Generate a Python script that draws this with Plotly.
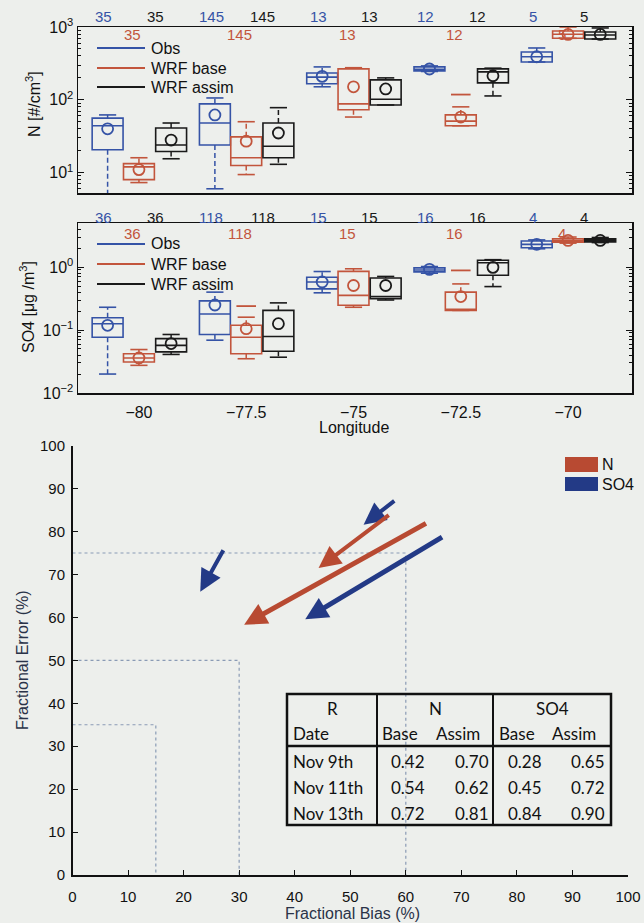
import plotly.graph_objects as go

W, H = 644, 923
FONT = "Liberation Sans, Arial, sans-serif"
TABLE_FONT = "Lato, Open Sans, sans-serif"

# ---------------- data: box plots ----------------
lons = [-80, -77.5, -75, -72.5, -70]
series = ["Obs", "WRF base", "WRF assim"]

n_counts = [35, 145, 13, 12, 5]
so4_counts = [36, 118, 15, 16, 4]

# N [#/cm3]
n_obs_lo = [3, 6, 151, 245, 331]
n_obs_q1 = [20.6, 24, 166, 250, 331]
n_obs_med = [44, 48, 205, 262, 390]
n_obs_q3 = [56, 88, 234, 283, 454]
n_obs_hi = [62, 106, 283, 292, 515]
n_obs_mean = [40, 62, 210, 265, 390]

n_base_lo = [7.3, 9.4, 58, 44, 700]
n_base_q1 = [8.0, 12.5, 73, 44, 700]
n_base_med = [12, 16, 88, 51, 795]
n_base_q3 = [13.3, 31, 266, 62, 880]
n_base_hi = [16, 50, 276, 80, 1000]
n_base_mean = [11, 27, 151, 58, 790]

n_assim_lo = [15.5, 13, 85, 113, 684]
n_assim_q1 = [19.5, 16, 85, 171, 684]
n_assim_med = [24, 23, 102, 242, 776]
n_assim_q3 = [41, 48, 188, 266, 855]
n_assim_hi = [48, 78, 200, 272, 970]
n_assim_mean = [28, 35, 141, 214, 790]

n_outlier_lon = [-72.5]
n_outlier_val = [118]

# SO4 [ug/m3]
s_obs_lo = [0.02, 0.069, 0.39, 0.80, 1.95]
s_obs_q1 = [0.077, 0.085, 0.45, 0.84, 2.03]
s_obs_med = [0.126, 0.18, 0.58, 0.90, 2.29]
s_obs_q3 = [0.157, 0.29, 0.69, 0.97, 2.59]
s_obs_hi = [0.23, 0.40, 0.85, 1.02, 2.7]
s_obs_mean = [0.119, 0.25, 0.58, 0.92, 2.3]

s_base_lo = [0.0275, 0.035, 0.23, 0.205, 2.4]
s_base_q1 = [0.031, 0.042, 0.247, 0.205, 2.49]
s_base_med = [0.036, 0.077, 0.355, 0.21, 2.65]
s_base_q3 = [0.042, 0.119, 0.855, 0.40, 2.82]
s_base_hi = [0.049, 0.16, 0.94, 0.54, 3.0]
s_base_mean = [0.036, 0.105, 0.51, 0.34, 2.65]

s_assim_lo = [0.041, 0.037, 0.30, 0.49, 2.45]
s_assim_q1 = [0.045, 0.046, 0.315, 0.74, 2.5]
s_assim_med = [0.057, 0.079, 0.34, 1.17, 2.65]
s_assim_q3 = [0.073, 0.205, 0.67, 1.28, 2.8]
s_assim_hi = [0.085, 0.27, 0.71, 1.31, 2.95]
s_assim_mean = [0.061, 0.126, 0.51, 0.99, 2.65]

s_outlier_lon = [-77.5, -72.5]
s_outlier_val = [0.24, 0.885]

# ---------------- data: fractional bias / error ----------------
arrow_species = ["SO4", "SO4", "N", "N", "SO4"]
base_bias = [27.3, 58.2, 57.2, 63.9, 66.8]
base_error = [76.0, 87.4, 84.1, 82.1, 78.9]
assim_bias = [23.0, 52.4, 44.3, 30.9, 41.9]
assim_error = [66.0, 81.6, 71.5, 58.3, 59.6]

goal_bias = [15, 30, 60]
goal_error = [35, 50, 75]

# ---------------- data: table ----------------
dates = ["Nov 9th", "Nov 11th", "Nov 13th"]
r_n_base = ["0.42", "0.54", "0.72"]
r_n_assim = ["0.70", "0.62", "0.81"]
r_so4_base = ["0.28", "0.45", "0.84"]
r_so4_assim = ["0.65", "0.72", "0.90"]

# ---------------- styles ----------------
colors = {"Obs": "#3553a6", "WRF base": "#c2553c", "WRF assim": "#1a1a1a"}
offsets = {"Obs": -0.73, "WRF base": 0.0, "WRF assim": 0.75}
label_offsets = {"Obs": -0.82, "WRF base": -0.15, "WRF assim": 0.38}
species_color = {"N": "#b84a32", "SO4": "#233a86"}
BG = "#edefec"
BOXW = 0.72
CAPW = 0.2

def px_x(p):
    return p / W

def px_y(p):
    return 1 - p / H

fig = go.Figure()

panels = [
    ("x", "y", {
        "Obs": (n_obs_lo, n_obs_q1, n_obs_med, n_obs_q3, n_obs_hi, n_obs_mean),
        "WRF base": (n_base_lo, n_base_q1, n_base_med, n_base_q3, n_base_hi, n_base_mean),
        "WRF assim": (n_assim_lo, n_assim_q1, n_assim_med, n_assim_q3, n_assim_hi, n_assim_mean),
    }, n_outlier_lon, n_outlier_val),
    ("x2", "y2", {
        "Obs": (s_obs_lo, s_obs_q1, s_obs_med, s_obs_q3, s_obs_hi, s_obs_mean),
        "WRF base": (s_base_lo, s_base_q1, s_base_med, s_base_q3, s_base_hi, s_base_mean),
        "WRF assim": (s_assim_lo, s_assim_q1, s_assim_med, s_assim_q3, s_assim_hi, s_assim_mean),
    }, s_outlier_lon, s_outlier_val),
]

for xa, ya, stats, out_lon, out_val in panels:
    for s in series:
        lo, q1, med, q3, hi, mean = stats[s]
        pos = [l + offsets[s] for l in lons]
        c = colors[s]
        fig.add_trace(go.Box(
            x=pos, q1=q1, median=med, q3=q3, lowerfence=q1, upperfence=q3,
            width=BOXW, whiskerwidth=0, boxpoints=False,
            line=dict(color=c, width=1.6), fillcolor="rgba(0,0,0,0)",
            xaxis=xa, yaxis=ya, showlegend=False, hoverinfo="skip"))
        # dashed whiskers
        wx, wy = [], []
        for p, a, b, cc, d in zip(pos, q3, hi, q1, lo):
            wx += [p, p, None, p, p, None]
            wy += [a, b, None, cc, d, None]
        fig.add_trace(go.Scatter(x=wx, y=wy, mode="lines",
                                 line=dict(color=c, width=1.5, dash="5px,3px"),
                                 xaxis=xa, yaxis=ya, showlegend=False, hoverinfo="skip"))
        # caps
        cx, cy = [], []
        for p, b, d in zip(pos, hi, lo):
            cx += [p - CAPW, p + CAPW, None, p - CAPW, p + CAPW, None]
            cy += [b, b, None, d, d, None]
        fig.add_trace(go.Scatter(x=cx, y=cy, mode="lines",
                                 line=dict(color=c, width=1.6),
                                 xaxis=xa, yaxis=ya, showlegend=False, hoverinfo="skip"))
        # means
        fig.add_trace(go.Scatter(x=pos, y=mean, mode="markers",
                                 marker=dict(symbol="circle-open", size=11,
                                             color=c, line=dict(width=1.8, color=c)),
                                 xaxis=xa, yaxis=ya, showlegend=False, hoverinfo="skip"))
    # outliers
    fig.add_trace(go.Scatter(x=[l + offsets["WRF base"] for l in out_lon], y=out_val,
                             mode="markers",
                             marker=dict(symbol="line-ew", size=14,
                                         line=dict(width=1.8, color=colors["WRF base"])),
                             xaxis=xa, yaxis=ya, showlegend=False, hoverinfo="skip"))

# ---------- bottom panel: reference lines & arrows ----------
for b, e in zip(goal_bias, goal_error):
    fig.add_trace(go.Scatter(x=[0, b, b], y=[e, e, 0], mode="lines",
                             line=dict(color="#8a9bb5", width=1.2, dash="dot"),
                             xaxis="x3", yaxis="y3", showlegend=False, hoverinfo="skip"))

annotations = []
for sp, b0, e0, b1, e1 in zip(arrow_species, base_bias, base_error, assim_bias, assim_error):
    long_arrow = (b0 - b1) > 15
    annotations.append(dict(
        x=b1, y=e1, ax=b0, ay=e0, xref="x3", yref="y3", axref="x3", ayref="y3",
        text="", showarrow=True, arrowhead=2, arrowsize=0.9 if long_arrow else 1.1,
        arrowwidth=5 if long_arrow else 4, arrowcolor=species_color[sp], standoff=0))

# ---------- count labels ----------
for lab_y, counts, xa in [((16, 34), n_counts, "x"), ((217, 233), so4_counts, "x2")]:
    for s in series:
        py = lab_y[1] if s == "WRF base" else lab_y[0]
        for l, n in zip(lons, counts):
            annotations.append(dict(
                x=l + label_offsets[s], y=px_y(py), xref=xa, yref="paper",
                text=str(n), showarrow=False, xanchor="center", yanchor="middle",
                font=dict(family=FONT, size=15, color=colors[s])))

# ---------- legends of box panels ----------
shapes = []
for rows in [(48, 68, 87), (244, 264, 284)]:
    for s, py in zip(series, rows):
        shapes.append(dict(type="line", xref="paper", yref="paper",
                           x0=px_x(97), x1=px_x(145), y0=px_y(py), y1=px_y(py),
                           line=dict(color=colors[s], width=1.8)))
        annotations.append(dict(x=px_x(149), y=px_y(py), xref="paper", yref="paper",
                                text=s, showarrow=False, xanchor="left", yanchor="middle",
                                font=dict(family=FONT, size=16, color="#111")))

# ---------- bottom legend ----------
for sp, (y0, y1) in zip(["N", "SO4"], [(457, 472), (477, 491)]):
    shapes.append(dict(type="rect", xref="paper", yref="paper",
                       x0=px_x(565), x1=px_x(598), y0=px_y(y1), y1=px_y(y0),
                       fillcolor=species_color[sp], line=dict(width=0)))
    annotations.append(dict(x=px_x(600), y=px_y((y0 + y1) / 2), xref="paper", yref="paper",
                            text=sp, showarrow=False, xanchor="left", yanchor="middle",
                            font=dict(family=FONT, size=16, color="#111")))

# ---------- axis titles ----------
def title_ann(text, x, y, angle=0, color="#111"):
    return dict(x=px_x(x), y=px_y(y), xref="paper", yref="paper", text=text,
                textangle=angle, showarrow=False, xanchor="center", yanchor="middle",
                font=dict(family=FONT, size=16, color=color))

annotations += [
    title_ann("N [#/cm<sup>3</sup>]", 33, 104, -90),
    title_ann("SO4 [μg /m<sup>3</sup>]", 27, 307, -90),
    title_ann("Longitude", 354, 427),
    title_ann("Fractional Error (%)", 22, 660, -90, "#2a3348"),
    title_ann("Fractional Bias (%)", 352, 913, 0, "#2a3348"),
]

# ---------- table ----------
TX0, TX1, TY0, TY1 = 287, 611, 694, 825
col1, col2, hdr = 377, 493, 746
shapes.append(dict(type="rect", xref="paper", yref="paper",
                   x0=px_x(TX0), x1=px_x(TX1), y0=px_y(TY1), y1=px_y(TY0),
                   line=dict(color="#111", width=2.5), fillcolor="rgba(0,0,0,0)"))
for cx in (col1, col2):
    shapes.append(dict(type="line", xref="paper", yref="paper",
                       x0=px_x(cx), x1=px_x(cx), y0=px_y(TY1), y1=px_y(TY0),
                       line=dict(color="#111", width=2)))
shapes.append(dict(type="line", xref="paper", yref="paper",
                   x0=px_x(TX0), x1=px_x(TX1), y0=px_y(hdr), y1=px_y(hdr),
                   line=dict(color="#111", width=2.5)))

def tcell(text, x, y, anchor="center"):
    annotations.append(dict(x=px_x(x), y=px_y(y), xref="paper", yref="paper", text=text,
                            showarrow=False, xanchor=anchor, yanchor="middle",
                            font=dict(family=TABLE_FONT, size=17, color="#111")))

tcell("R", 333, 708)
tcell("N", 436, 708)
tcell("SO4", 552, 708)
tcell("Date", 291, 733, "left")
tcell("Base", 400, 733)
tcell("Assim", 458, 733)
tcell("Base", 517, 733)
tcell("Assim", 574, 733)
for i, ry in enumerate([761, 787, 813]):
    tcell(dates[i], 291, ry, "left")
    tcell(r_n_base[i], 408, ry)
    tcell(r_n_assim[i], 491, ry, "right")
    tcell(r_so4_base[i], 525, ry)
    tcell(r_so4_assim[i], 607, ry, "right")

# ---------- axes ----------
xr = [-81.42, -68.51]
x_dom = [px_x(78), px_x(632)]
tickfont16 = dict(family=FONT, size=16, color="#111")
tickfont15 = dict(family=FONT, size=15, color="#111")

def minor_vals(e0, e1):
    return [k * 10 ** e for e in range(e0, e1) for k in range(2, 10)]

common_box_x = dict(range=xr, domain=x_dom, showline=True, linecolor="#111", linewidth=1.5,
                    mirror=True, showgrid=False, zeroline=False, ticks="", automargin=False)
common_log_y = dict(type="log", showline=True, linecolor="#111", linewidth=1.5, mirror="allticks",
                    showgrid=False, zeroline=False, ticks="inside", ticklen=6, tickcolor="#111",
                    tickfont=tickfont16, automargin=False)

fig.update_layout(
    template="none",
    width=W, height=H, autosize=False,
    margin=dict(l=0, r=0, t=0, b=0, pad=0, autoexpand=False),
    paper_bgcolor=BG, plot_bgcolor=BG,
    showlegend=False,
    font=dict(family=FONT, size=15, color="#111"),
    xaxis=dict(**common_box_x, anchor="y", showticklabels=False),
    yaxis=dict(**common_log_y, anchor="x", domain=[px_y(193), px_y(27)],
               range=[0.72, 3.0], tickmode="array", tickvals=[10, 100, 1000],
               ticktext=["10<sup>1</sup>", "10<sup>2</sup>", "10<sup>3</sup>"],
               minor=dict(ticks="inside", ticklen=3, tickcolor="#111",
                          tickmode="array", tickvals=minor_vals(0, 3))),
    xaxis2=dict(**common_box_x, anchor="y2", tickmode="array", tickvals=lons,
                ticktext=["−80", "−77.5", "−75", "−72.5", "−70"], tickfont=tickfont16,
                ticklabelstandoff=4),
    yaxis2=dict(**common_log_y, anchor="x2", domain=[px_y(393), px_y(223)],
                range=[-2.0, 0.7], tickmode="array", tickvals=[0.01, 0.1, 1],
                ticktext=["10<sup>−2</sup>", "10<sup>−1</sup>", "10<sup>0</sup>"],
                minor=dict(ticks="inside", ticklen=3, tickcolor="#111",
                           tickmode="array", tickvals=minor_vals(-2, 1))),
    xaxis3=dict(anchor="y3", domain=[px_x(72.5), px_x(628)], range=[0, 100], dtick=10,
                showline=True, linecolor="#111", linewidth=1.5, showgrid=False,
                zeroline=False, ticks="inside", ticklen=5, tickcolor="#111", tickfont=tickfont15,
                ticklabelstandoff=7, automargin=False),
    yaxis3=dict(anchor="x3", domain=[px_y(875), px_y(445.7)], range=[0, 100], dtick=10,
                showline=True, linecolor="#111", linewidth=1.5, showgrid=False,
                zeroline=False, ticks="inside", ticklen=5, tickcolor="#111", tickfont=tickfont15,
                ticklabelstandoff=3, automargin=False),
    annotations=annotations,
    shapes=shapes,
)

fig.write_html("out.html",
               config={"displayModeBar": False, "staticPlot": True},
               post_script="document.body.style.margin='0';document.body.style.padding='0';"
                           "document.body.style.overflow='hidden';")
